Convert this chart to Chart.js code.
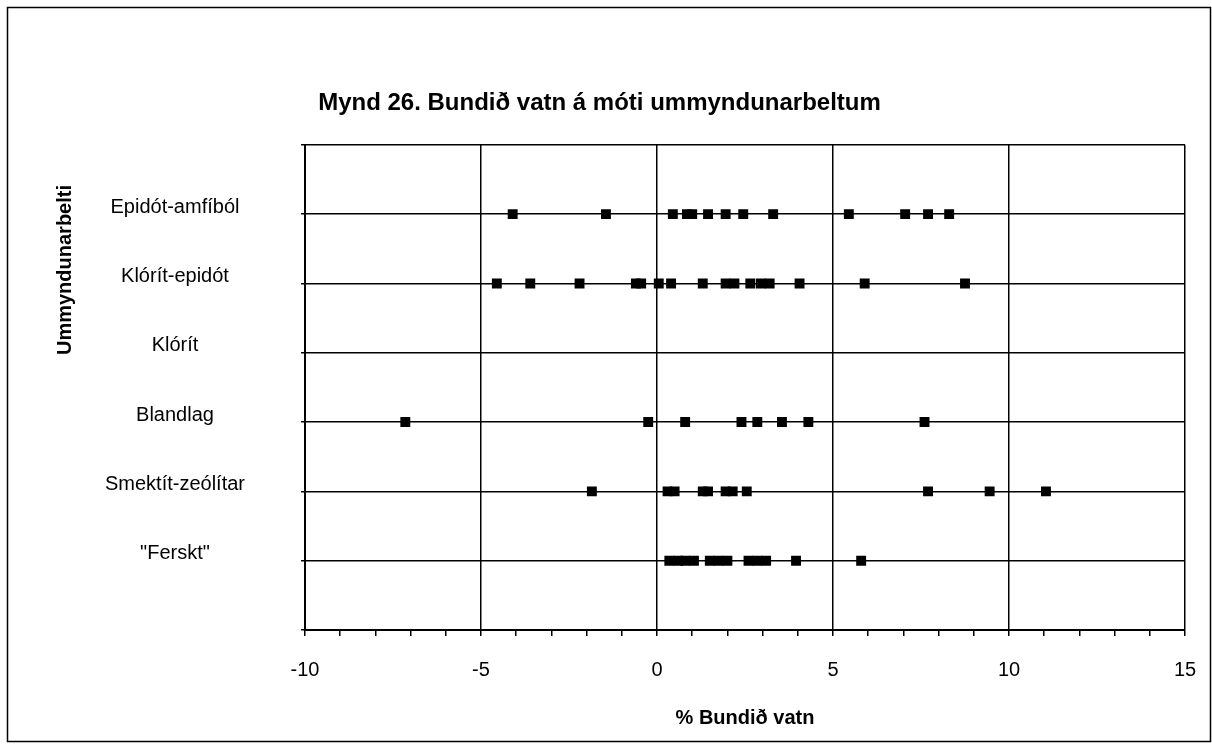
<!DOCTYPE html>
<html><head><meta charset="utf-8">
<script src="https://cdn.jsdelivr.net/npm/chart.js@4/dist/chart.umd.min.js"></script>
<style>html,body{margin:0;padding:0;background:#fff;} canvas{display:block;}</style>
</head><body>
<canvas id="c" width="1212" height="746"></canvas>
<script>
const chartTitle = 'Mynd 26. Bundið vatn á móti ummyndunarbeltum';
const xAxisTitle = '% Bundið vatn';
const yAxisTitle = 'Ummyndunarbelti';
// bottom to top (y = 1 .. 6)
const categories = ['"Ferskt"', 'Smektít-zeólítar', 'Blandlag', 'Klórít', 'Klórít-epidót', 'Epidót-amfíból'];
const xTickLabels = [-10, -5, 0, 5, 10, 15];

const ferskt = [0.35, 0.6, 0.8, 1.05, 1.5, 1.75, 2.0, 2.6, 2.85, 3.1, 3.95, 5.8];
const smektitZeolitar = [-1.85, 0.3, 0.5, 1.3, 1.45, 1.95, 2.15, 2.55, 7.7, 9.45, 11.05];
const blandlag = [-7.15, -0.25, 0.8, 2.4, 2.85, 3.55, 4.3, 7.6];
const klorit = [];
const kloritEpidot = [-4.55, -3.6, -2.2, -0.6, -0.45, 0.05, 0.4, 1.3, 1.95, 2.2, 2.65, 2.95, 3.2, 4.05, 5.9, 8.75];
const epidotAmfibol = [-4.1, -1.45, 0.45, 0.85, 1.0, 1.45, 1.95, 2.45, 3.3, 5.45, 7.05, 7.7, 8.3];

const seriesByCategory = [ferskt, smektitZeolitar, blandlag, klorit, kloritEpidot, epidotAmfibol];
const points = [];
seriesByCategory.forEach((vals, i) => vals.forEach(v => points.push({ x: v, y: i + 1 })));

const FONT = 'Liberation Sans, Arial, sans-serif';

const decor = {
  id: 'decor',
  beforeDraw(chart) {
    const ctx = chart.ctx;
    ctx.save();
    ctx.fillStyle = '#fff';
    ctx.fillRect(0, 0, chart.width, chart.height);
    ctx.strokeStyle = '#000';
    ctx.lineWidth = 1.5;
    ctx.strokeRect(7.5, 7.5, chart.width - 9, chart.height - 12);
    ctx.restore();
  },
  afterDraw(chart) {
    const ctx = chart.ctx;
    ctx.save();
    ctx.translate(65, 270);
    ctx.rotate(-Math.PI / 2);
    ctx.font = 'bold 20px ' + FONT;
    ctx.fillStyle = '#000';
    ctx.textAlign = 'center';
    ctx.textBaseline = 'middle';
    ctx.fillText(yAxisTitle, 0, 0);
    ctx.restore();
  }
};

new Chart(document.getElementById('c'), {
  type: 'scatter',
  data: {
    datasets: [{
      data: points,
      pointStyle: 'rect',
      pointRadius: 7,
      pointHoverRadius: 7,
      backgroundColor: '#000',
      borderColor: '#000',
      borderWidth: 0,
      showLine: false
    }]
  },
  options: {
    responsive: false,
    animation: false,
    layout: { padding: { left: 14, right: 27, top: 89, bottom: 0 } },
    plugins: {
      legend: { display: false },
      tooltip: { enabled: false },
      title: {
        display: true, text: chartTitle, color: '#000',
        font: { family: FONT, size: 24, weight: 'bold' },
        padding: { top: 0, bottom: 27 }
      }
    },
    scales: {
      x: {
        type: 'linear', min: -10, max: 15, position: 'bottom',
        ticks: {
          stepSize: 1, autoSkip: false, maxRotation: 0, color: '#000',
          font: { family: FONT, size: 20, lineHeight: 1.9 }, padding: 15,
          callback: v => xTickLabels.includes(v) ? String(v) : ''
        },
        grid: {
          color: c => (c.tick && xTickLabels.includes(c.tick.value)) ? '#000' : 'rgba(0,0,0,0)',
          lineWidth: 1.5, tickColor: '#000', tickLength: 6
        },
        border: { color: '#000', width: 2 },
        title: {
          display: true, text: xAxisTitle, color: '#000',
          font: { family: FONT, size: 20, weight: 'bold' },
          padding: { top: 10, bottom: 16 }
        },
        afterFit: s => { s.height = 116; }
      },
      y: {
        type: 'linear', min: 0, max: 7,
        ticks: {
          stepSize: 1, autoSkip: false, color: '#000',
          font: { family: FONT, size: 20 },
          crossAlign: 'center', padding: 56, labelOffset: -7,
          callback: v => categories[v - 1] || ''
        },
        grid: { color: '#000', lineWidth: 1.5, tickColor: '#000', tickLength: 4 },
        border: { color: '#000', width: 2 },
        afterFit: s => { s.width = 291; }
      }
    }
  },
  plugins: [decor]
});
</script>
</body></html>
